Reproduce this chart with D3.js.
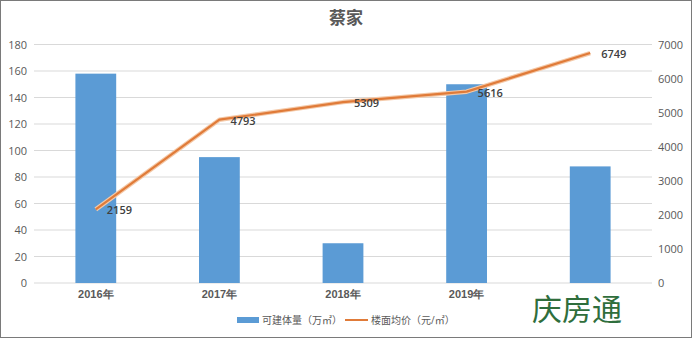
<!DOCTYPE html>
<html>
<head>
<meta charset="utf-8">
<script src="https://cdn.jsdelivr.net/npm/d3@7"></script>
<style>
  body { margin: 0; background: #fff; }
  svg { display: block; font-family: "Open Sans", "Noto Sans CJK SC", sans-serif; }
</style>
</head>
<body>
<svg width="692" height="338"></svg>
<script>
const categories = ["2016年", "2017年", "2018年", "2019年", "2020年"];
const volume = [158, 95, 30, 150, 88];          // 可建体量（万㎡）
const price = [2159, 4793, 5309, 5616, 6749];    // 楼面均价（元/㎡）
const leftTicks = [0, 20, 40, 60, 80, 100, 120, 140, 160, 180];
const rightTicks = [0, 1000, 2000, 3000, 4000, 5000, 6000, 7000];

const svg = d3.select("svg");
const width = 692, height = 338;
const margin = { top: 44.5, right: 40, bottom: 55, left: 34 };
const plotW = width - margin.left - margin.right;

// frame
svg.append("rect")
    .attr("x", 0.5).attr("y", 0.5)
    .attr("width", width - 1).attr("height", height - 1)
    .attr("fill", "#fff").attr("stroke", "#7a7a7a");

const x = d3.scaleBand().domain(categories).range([margin.left, margin.left + plotW]).paddingInner(0.67).paddingOuter(0.335);
const yL = d3.scaleLinear().domain([0, 180]).range([283, margin.top]);
const yR = d3.scaleLinear().domain([0, 7000]).range([283, margin.top]);

// title
svg.append("text")
    .attr("x", 346).attr("y", 24)
    .attr("text-anchor", "middle")
    .attr("font-size", 17).attr("font-weight", "bold")
    .attr("fill", "#595959")
    .text("蔡家");

// grid
svg.append("g")
    .selectAll("line")
    .data(leftTicks)
    .enter().append("line")
    .attr("x1", margin.left).attr("x2", margin.left + plotW)
    .attr("y1", d => yL(d)).attr("y2", d => yL(d))
    .attr("stroke", "#d9d9d9").attr("stroke-width", 1);

// left axis
const axL = svg.append("g")
    .attr("transform", `translate(${margin.left},0)`)
    .call(d3.axisLeft(yL).tickValues(leftTicks).tickSize(0).tickPadding(7));
axL.select(".domain").remove();
axL.selectAll("text").attr("font-size", 11).attr("fill", "#595959").attr("font-family", "Open Sans, sans-serif");

// right axis
const axR = svg.append("g")
    .attr("transform", `translate(${margin.left + plotW},0)`)
    .call(d3.axisRight(yR).tickValues(rightTicks).tickFormat(d3.format("d")).tickSize(0).tickPadding(6));
axR.select(".domain").remove();
axR.selectAll("text").attr("font-size", 11).attr("fill", "#595959").attr("font-family", "Open Sans, sans-serif");

// bottom axis labels
const axB = svg.append("g")
    .attr("transform", `translate(0,283)`)
    .call(d3.axisBottom(x).tickSize(0).tickPadding(7));
axB.select(".domain").remove();
axB.selectAll("text").attr("font-size", 11).attr("font-weight", "bold").attr("fill", "#595959");

// bars
svg.append("g")
    .selectAll("rect")
    .data(volume)
    .enter().append("rect")
    .attr("x", (d, i) => x(categories[i]))
    .attr("width", x.bandwidth())
    .attr("y", d => yL(d))
    .attr("height", d => yL(0) - yL(d))
    .attr("fill", "#5b9bd5");

// line
const cx = (d, i) => x(categories[i]) + x.bandwidth() / 2;
const line = d3.line().x(cx).y(d => yR(d));
svg.append("path")
    .datum(price)
    .attr("d", line)
    .attr("fill", "none")
    .attr("stroke", "#f4c9a8")
    .attr("stroke-width", 4.5)
    .attr("stroke-linejoin", "round");
svg.append("path")
    .datum(price)
    .attr("d", line)
    .attr("fill", "none")
    .attr("stroke", "#e07b39")
    .attr("stroke-width", 2.2)
    .attr("stroke-linejoin", "round");

// line labels
svg.append("g")
    .selectAll("text")
    .data(price)
    .enter().append("text")
    .attr("x", (d, i) => cx(d, i) + 11)
    .attr("y", d => yR(d) + 5)
    .attr("font-size", 11).attr("font-weight", 600)
    .attr("fill", "#404040")
    .text(d => d);

// legend
const lg = svg.append("g").attr("font-size", 10).attr("fill", "#595959");
lg.append("rect").attr("x", 237).attr("y", 317).attr("width", 22).attr("height", 6).attr("fill", "#5b9bd5");
lg.append("text").attr("x", 262).attr("y", 324).text("可建体量（万㎡）");
lg.append("line").attr("x1", 345).attr("x2", 368).attr("y1", 320).attr("y2", 320).attr("stroke", "#e07b39").attr("stroke-width", 2);
lg.append("text").attr("x", 371).attr("y", 324).text("楼面均价（元/㎡）");

// watermark pasted over the chart corner
svg.append("rect")
    .attr("x", 528).attr("y", 289).attr("width", 104).attr("height", 36)
    .attr("fill", "#fff");
svg.append("text")
    .attr("x", 532).attr("y", 320)
    .attr("font-size", 30)
    .attr("font-family", "Noto Sans CJK SC, sans-serif")
    .attr("fill", "#2f6e3c")
    .text("庆房通");
</script>
</body>
</html>
